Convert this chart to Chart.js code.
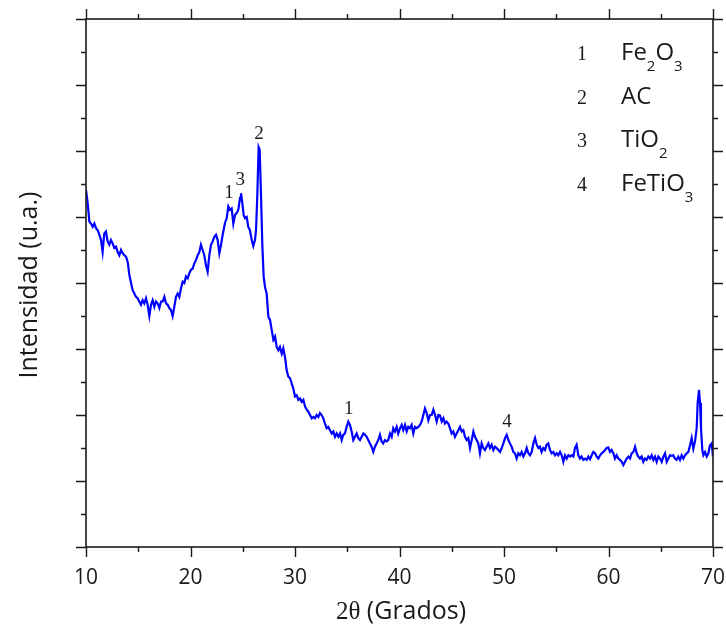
<!DOCTYPE html>
<html>
<head>
<meta charset="utf-8">
<script src="https://cdn.jsdelivr.net/npm/chart.js@4/dist/chart.umd.min.js"></script>
<style>
  html, body { margin: 0; padding: 0; background: #fff; }
  #wrap { width: 726px; height: 635px; }
</style>
</head>
<body>
<div id="wrap"><canvas id="xrd"></canvas></div>
<script>
// XRD pattern: 2θ (degrees) and intensity (arbitrary units)
const twoTheta = [
  10.00, 10.16, 10.32, 10.48, 10.64, 10.80, 10.96, 11.12, 11.28, 11.44,
  11.59, 11.75, 11.91, 12.07, 12.23, 12.39, 12.55, 12.71, 12.87, 13.03,
  13.19, 13.35, 13.51, 13.67, 13.83, 13.99, 14.15, 14.31, 14.47, 14.63,
  14.78, 14.94, 15.10, 15.26, 15.42, 15.58, 15.74, 15.90, 16.06, 16.22,
  16.38, 16.54, 16.70, 16.86, 17.02, 17.18, 17.34, 17.50, 17.66, 17.82,
  17.97, 18.13, 18.29, 18.45, 18.61, 18.77, 18.93, 19.09, 19.25, 19.41,
  19.57, 19.73, 19.89, 20.05, 20.21, 20.37, 20.53, 20.69, 20.85, 21.00,
  21.16, 21.32, 21.48, 21.64, 21.80, 21.96, 22.12, 22.28, 22.44, 22.60,
  22.76, 22.92, 23.08,
  23.30, 23.46, 23.62, 23.78, 23.94, 24.10, 24.26, 24.42, 24.58, 24.74,
  24.83, 24.96, 25.09, 25.22, 25.38, 25.53, 25.69, 25.86, 26.01, 26.17,
  26.27, 26.39, 26.52, 26.62, 26.75, 26.88, 27.00, 27.13, 27.29, 27.45,
  27.61, 27.77, 27.93, 28.09, 28.25, 28.41, 28.56, 28.73, 28.88, 29.04,
  29.20, 29.36,
  29.52, 29.68, 29.84, 30.00, 30.16, 30.32, 30.48, 30.64, 30.80, 30.96,
  31.12, 31.28, 31.44, 31.60, 31.75, 31.91, 32.07, 32.23, 32.39, 32.55,
  32.71, 32.87, 33.03, 33.19, 33.35, 33.51, 33.67, 33.83, 33.99, 34.15,
  34.31, 34.47, 34.62, 34.78, 34.94, 35.10, 35.26, 35.42, 35.58, 35.74,
  35.90, 36.06, 36.22, 36.38, 36.54, 36.70, 36.86, 37.01, 37.17, 37.33,
  37.49, 37.65, 37.81, 37.97, 38.13, 38.29, 38.44, 38.60, 38.76, 38.92,
  39.09, 39.25, 39.40, 39.57, 39.73, 39.88, 40.05, 40.21, 40.36, 40.53,
  40.69, 40.84, 41.00, 41.16, 41.32, 41.48, 41.64, 41.80, 41.96, 42.12,
  42.28, 42.44, 42.60, 42.76, 42.92, 43.08, 43.24, 43.40, 43.56, 43.72,
  43.88, 44.04, 44.20, 44.35, 44.51, 44.67, 44.83, 44.99, 45.15, 45.31,
  45.47, 45.63, 45.79, 45.95, 46.11, 46.27, 46.43, 46.59, 46.75, 46.91,
  47.07, 47.22, 47.38, 47.54, 47.70, 47.86, 48.02, 48.18, 48.34, 48.50,
  48.66, 48.82, 48.98, 49.14, 49.30, 49.46, 49.62, 49.78, 49.94, 50.10,
  50.26, 50.42, 50.57, 50.73, 50.89, 51.05, 51.21, 51.37, 51.53, 51.69,
  51.85, 52.01, 52.17, 52.33, 52.49, 52.65, 52.81, 52.97, 53.13, 53.29,
  53.44, 53.60, 53.76, 53.92, 54.08, 54.24, 54.40, 54.56, 54.72, 54.88,
  55.04, 55.20, 55.36, 55.52, 55.68, 55.84, 56.00, 56.16, 56.32, 56.48,
  56.64, 56.79, 56.95, 57.11, 57.27, 57.43, 57.59,
  57.75, 57.91, 58.07, 58.23, 58.39, 58.55, 58.71, 58.87, 59.03, 59.19,
  59.35, 59.51, 59.67, 59.82, 59.98, 60.14, 60.30, 60.46, 60.62, 60.78,
  60.94, 61.10, 61.26, 61.42, 61.58, 61.74, 61.90, 62.06, 62.22, 62.38,
  62.54, 62.70, 62.85, 63.01, 63.17, 63.33, 63.49, 63.65, 63.81, 63.97,
  64.13, 64.29, 64.45, 64.61, 64.77, 64.93, 65.09, 65.25, 65.41, 65.57,
  65.73, 65.89, 66.05, 66.20, 66.36, 66.52, 66.68, 66.84, 67.00, 67.16,
  67.32, 67.48, 67.64, 67.80, 67.96, 68.12, 68.28, 68.44, 68.53, 68.66,
  68.76, 68.85, 68.98, 69.08, 69.24, 69.40, 69.56, 69.71, 69.88, 70.00
];
const intensity = [
  5.41, 5.21, 4.93, 4.90, 4.85, 4.90, 4.83, 4.80, 4.73, 4.65,
  4.47, 4.75, 4.78, 4.63, 4.58, 4.65, 4.60, 4.53, 4.55, 4.47,
  4.42, 4.50, 4.45, 4.42, 4.40, 4.32, 4.12, 4.00, 3.89, 3.84,
  3.79, 3.77, 3.72, 3.67, 3.74, 3.69, 3.77, 3.67, 3.50, 3.67,
  3.74, 3.64, 3.72, 3.69, 3.62, 3.72, 3.72, 3.79, 3.69, 3.67,
  3.62, 3.59, 3.50, 3.64, 3.79, 3.84, 3.79, 3.92, 4.02, 4.00,
  4.10, 4.07, 4.15, 4.20, 4.22, 4.30, 4.35, 4.42, 4.47, 4.58,
  4.50, 4.42, 4.27, 4.17, 4.42, 4.58, 4.63, 4.70, 4.73, 4.65,
  4.45, 4.58, 4.73,
  4.91, 4.98, 5.16, 5.11, 5.13, 4.90, 5.03, 5.06, 5.11, 5.29,
  5.36, 5.21, 5.03, 4.98, 5.00, 4.85, 4.80, 4.65, 4.56, 4.65,
  4.80, 5.31, 6.06, 6.02, 5.31, 4.55, 4.10, 3.94, 3.84, 3.49,
  3.44, 3.29, 3.14, 3.19, 3.03, 2.98, 3.03, 2.93, 3.01, 2.88,
  2.68, 2.58,
  2.56, 2.48, 2.40, 2.28, 2.30, 2.23, 2.25, 2.20, 2.23, 2.13,
  2.08, 2.05, 2.00, 1.95, 1.97, 1.95, 2.00, 1.97, 2.03, 2.00,
  1.95, 1.87, 1.80, 1.82, 1.77, 1.72, 1.75, 1.67, 1.72, 1.67,
  1.72, 1.62, 1.70, 1.72, 1.82, 1.90, 1.85, 1.75, 1.62, 1.67,
  1.72, 1.65, 1.62, 1.67, 1.72, 1.70, 1.67, 1.62, 1.57, 1.52,
  1.44, 1.52, 1.57, 1.62, 1.70, 1.60, 1.57, 1.62, 1.60, 1.62,
  1.72, 1.67, 1.80, 1.75, 1.82, 1.72, 1.80, 1.85, 1.77, 1.85,
  1.75, 1.82, 1.80, 1.85, 1.72, 1.82, 1.80, 1.82, 1.85, 1.90,
  2.00, 2.10, 2.03, 1.92, 2.00, 2.00, 2.08, 2.00, 1.90, 2.00,
  1.99, 1.90, 1.95, 1.87, 1.90, 1.87, 1.80, 1.72, 1.75, 1.67,
  1.72, 1.77, 1.82, 1.75, 1.77, 1.67, 1.62, 1.65, 1.50, 1.62,
  1.75, 1.67, 1.62, 1.57, 1.42, 1.57, 1.50, 1.47, 1.52, 1.57,
  1.50, 1.55, 1.47, 1.52, 1.50, 1.47, 1.44, 1.50, 1.57, 1.65,
  1.70, 1.62, 1.57, 1.52, 1.44, 1.42, 1.34, 1.42, 1.39, 1.44,
  1.37, 1.42, 1.50, 1.42, 1.39, 1.44, 1.57, 1.65, 1.55, 1.50,
  1.52, 1.44, 1.50, 1.47, 1.55, 1.57, 1.47, 1.42, 1.44, 1.39,
  1.42, 1.39, 1.44, 1.39, 1.29, 1.39, 1.34, 1.39, 1.37, 1.39,
  1.37, 1.50, 1.55, 1.39, 1.34, 1.37, 1.32,
  1.34, 1.32, 1.37, 1.33, 1.39, 1.44, 1.42, 1.37, 1.34, 1.39,
  1.42, 1.44, 1.47, 1.50, 1.51, 1.44, 1.47, 1.42, 1.34, 1.39,
  1.34, 1.32, 1.29, 1.24, 1.29, 1.34, 1.37, 1.34, 1.42, 1.44,
  1.52, 1.42, 1.37, 1.34, 1.37, 1.29, 1.34, 1.32, 1.37, 1.34,
  1.39, 1.32, 1.37, 1.29, 1.37, 1.34, 1.29, 1.37, 1.42, 1.29,
  1.34, 1.39, 1.38, 1.39, 1.34, 1.32, 1.37, 1.32, 1.39, 1.34,
  1.39, 1.42, 1.44, 1.54, 1.65, 1.49, 1.60, 1.80, 2.18, 2.38,
  2.18, 1.80, 1.47, 1.39, 1.44, 1.37, 1.42, 1.54, 1.57, 1.37
];

// axis ticks
const xMajor = [10, 20, 30, 40, 50, 60, 70];
const xMinor = [15, 25, 35, 45, 55, 65];
const yMajor = [0, 1, 2, 3, 4, 5, 6, 7, 8];
const yMinor = [0.5, 1.5, 2.5, 3.5, 4.5, 5.5, 6.5, 7.5];

// reflections marked on the pattern
const peakAngles = [23.68, 24.76, 26.55, 35.15, 50.28];
const peakLabels = ['1', '3', '2', '1', '4'];

// phase key
const phaseNums = ['1', '2', '3', '4'];
const phaseNames = ['Fe_2O_3', 'AC', 'TiO_2', 'FeTiO_3'];

const SANS = '"Open Sans", "DejaVu Sans", sans-serif';
const SERIF = '"Liberation Serif", "DejaVu Serif", serif';
const INK = '#1a1a1a';

function peakTop(angle) {
  let best = 0;
  twoTheta.forEach((t, i) => {
    if (Math.abs(t - angle) <= 0.2 && intensity[i] > best) best = intensity[i];
  });
  return best;
}

function drawFormula(ctx, text, x, y) {
  // "_n" marks a subscript digit
  let cx = x;
  for (let i = 0; i < text.length; i++) {
    if (text[i] === '_') {
      i++;
      ctx.font = '15px ' + SANS;
      ctx.fillText(text[i], cx, y + 11);
      cx += ctx.measureText(text[i]).width;
    } else {
      ctx.font = '24px ' + SANS;
      ctx.fillText(text[i], cx, y);
      cx += ctx.measureText(text[i]).width;
    }
  }
}

const decorations = {
  id: 'decorations',
  afterDraw(chart) {
    const { ctx, chartArea: a, scales } = chart;
    const xs = scales.x, ys = scales.y;
    ctx.save();

    // frame
    ctx.strokeStyle = INK;
    ctx.lineWidth = 1.6;
    ctx.strokeRect(a.left, a.top, a.right - a.left, a.bottom - a.top);

    // outward tick marks on all four sides
    ctx.lineWidth = 1.4;
    ctx.beginPath();
    const xt = (v, len) => {
      const p = Math.round(xs.getPixelForValue(v)) + 0.5;
      ctx.moveTo(p, a.bottom); ctx.lineTo(p, a.bottom + len);
      ctx.moveTo(p, a.top); ctx.lineTo(p, a.top - len);
    };
    const yt = (v, len) => {
      const p = Math.round(ys.getPixelForValue(v)) + 0.5;
      ctx.moveTo(a.left, p); ctx.lineTo(a.left - len, p);
      ctx.moveTo(a.right, p); ctx.lineTo(a.right + len, p);
    };
    xMajor.forEach(v => xt(v, 10));
    xMinor.forEach(v => xt(v, 5));
    yMajor.forEach(v => yt(v, 10));
    yMinor.forEach(v => yt(v, 5));
    ctx.stroke();

    // peak markers
    ctx.fillStyle = INK;
    ctx.font = '19px ' + SERIF;
    ctx.textAlign = 'center';
    ctx.textBaseline = 'alphabetic';
    peakAngles.forEach((ang, i) => {
      const px = xs.getPixelForValue(ang);
      const py = ys.getPixelForValue(peakTop(ang));
      ctx.fillText(peakLabels[i], px, py - 8);
    });

    // phase key
    const keyTop = 60, keyStep = 43.5;
    phaseNums.forEach((n, i) => {
      const by = keyTop + i * keyStep;
      ctx.textAlign = 'center';
      ctx.font = '20px ' + SERIF;
      ctx.fillText(n, 582, by);
      ctx.textAlign = 'left';
      drawFormula(ctx, phaseNames[i], 621, by);
    });

    // axis titles
    ctx.textBaseline = 'middle';
    ctx.save();
    ctx.translate(30, 285);
    ctx.rotate(-Math.PI / 2);
    ctx.textAlign = 'center';
    ctx.font = '25px ' + SANS;
    ctx.fillText('Intensidad (u.a.)', 0, 0);
    ctx.restore();

    ctx.font = '25px ' + SERIF;
    const partA = '2θ';
    const wA = ctx.measureText(partA).width;
    ctx.font = '25px ' + SANS;
    const partB = ' (Grados)';
    const wB = ctx.measureText(partB).width;
    let sx = 401 - (wA + wB) / 2;
    ctx.textAlign = 'left';
    ctx.font = '25px ' + SERIF;
    ctx.fillText(partA, sx, 612);
    ctx.font = '25px ' + SANS;
    ctx.fillText(partB, sx + wA, 612);

    ctx.restore();
  }
};

new Chart(document.getElementById('xrd'), {
  type: 'line',
  data: {
    datasets: [{
      data: twoTheta.map((t, i) => ({ x: t, y: intensity[i] })),
      borderColor: '#0000ff',
      borderWidth: 2.2,
      pointRadius: 0,
      fill: false,
      tension: 0
    }]
  },
  options: {
    responsive: true,
    maintainAspectRatio: false,
    animation: false,
    layout: { padding: { top: 19, right: 13, left: 0, bottom: 0 } },
    plugins: { legend: { display: false }, tooltip: { enabled: false } },
    scales: {
      x: {
        type: 'linear',
        min: 10,
        max: 70,
        grid: { display: false, drawTicks: false },
        border: { display: false },
        ticks: {
          stepSize: 10,
          padding: 18,
          color: INK,
          font: { family: SANS, size: 21 }
        },
        afterFit(scale) {
          scale.height = 88;
          scale.paddingLeft = 0;
          scale.paddingRight = 0;
        }
      },
      y: {
        min: 0,
        max: 8,
        grid: { display: false, drawTicks: false },
        border: { display: false },
        ticks: { display: false },
        afterFit(scale) { scale.width = 86; }
      }
    }
  },
  plugins: [decorations]
});
</script>
</body>
</html>
